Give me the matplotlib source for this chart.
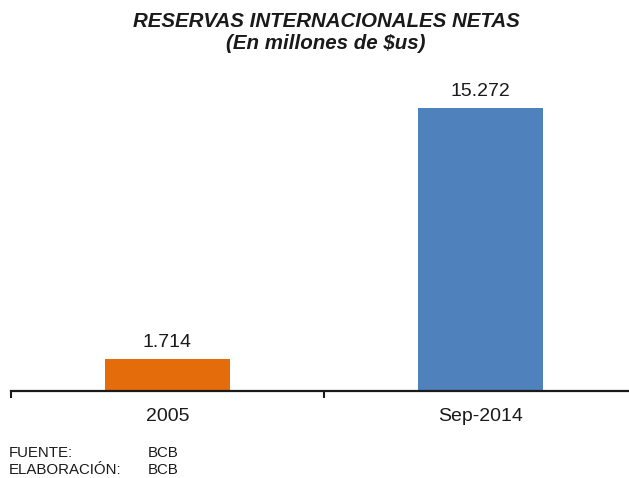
import matplotlib
matplotlib.use("Agg")
import matplotlib.pyplot as plt

# Net international reserves, millions of US$
categories = ["2005", "Sep-2014"]
values = [1714, 15272]
labels = ["1.714", "15.272"]
colors = ["#E46C0A", "#4F81BD"]

W, H = 629, 478
plt.rcParams["font.family"] = ["Liberation Sans", "DejaVu Sans"]

fig = plt.figure(figsize=(W / 100, H / 100), dpi=100)

ymax = 16500
ax_left, ax_bottom_px, ax_width_px = 11, 391, 626
ax_height_px = 283 * ymax / 15272
ax = fig.add_axes([ax_left / W, (H - ax_bottom_px) / H, ax_width_px / W, ax_height_px / H])

x = list(range(len(categories)))
ax.bar(x, values, width=0.40, color=colors, zorder=2)
ax.set_xlim(-0.5, 1.5)
ax.set_ylim(0, ymax)

for xi, v, lab in zip(x, values, labels):
    ax.annotate(lab, (xi, v), xytext=(0, 12), textcoords="offset pixels",
                ha="center", va="baseline", fontsize=14, color="#1a1a1a")

ax.set_xticks([-0.5, 0.5, 1.5], minor=False)
ax.set_xticklabels([])
ax.set_xticks(x, minor=True)
ax.set_xticklabels(categories, minor=True, fontsize=14, color="#1a1a1a")
ax.tick_params(axis="x", which="major", direction="out", length=5, width=1.5, color="#1a1a1a")
ax.tick_params(axis="x", which="minor", length=0, pad=12)
ax.set_yticks([])

for side in ["top", "right", "left"]:
    ax.spines[side].set_visible(False)
ax.spines["bottom"].set_linewidth(1.6)
ax.spines["bottom"].set_color("#1a1a1a")

title_kw = dict(ha="center", va="baseline", fontsize=14.8, fontweight="bold",
                fontstyle="italic", color="#1a1a1a")
fig.text(326 / W, 1 - 27 / H, "RESERVAS INTERNACIONALES NETAS", **title_kw)
fig.text(326 / W, 1 - 49 / H, "(En millones de $us)", **title_kw)

foot_kw = dict(ha="left", va="baseline", fontsize=10.8, color="#1a1a1a")
fig.text(9 / W, 1 - 457 / H, "FUENTE:", **foot_kw)
fig.text(148 / W, 1 - 457 / H, "BCB", **foot_kw)
fig.text(9 / W, 1 - 474 / H, "ELABORACIÓN:", **foot_kw)
fig.text(148 / W, 1 - 474 / H, "BCB", **foot_kw)

fig.savefig("out.png", dpi=100)
